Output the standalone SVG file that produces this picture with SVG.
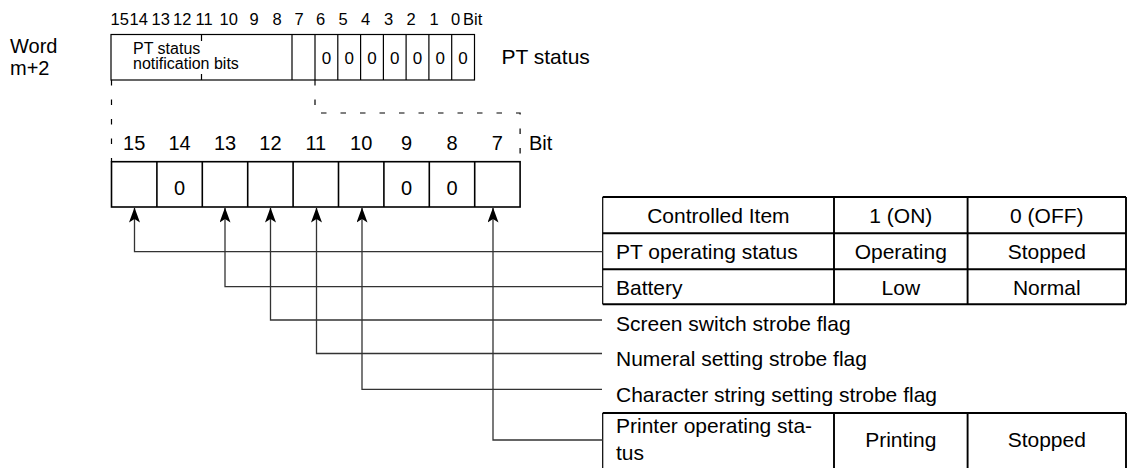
<svg xmlns="http://www.w3.org/2000/svg" width="1131" height="468" viewBox="0 0 1131 468">
<style>
  .t { font-family: "Liberation Sans", Arial, Helvetica, sans-serif; fill: #000; }
  .s15 { font-size: 16.5px; }
  .s16 { font-size: 16px; }
  .s17 { font-size: 17px; }
  .s20 { font-size: 20px; }
  .s21 { font-size: 21px; }
  .m { text-anchor: middle; }
  .box { fill: none; stroke: #000; stroke-width: 1.2; }
  .cell { fill: none; stroke: #000; stroke-width: 1.6; }
  .tbl { fill: none; stroke: #000; stroke-width: 1.9; }
  .edge { fill: none; stroke: #000; stroke-width: 1.2; }
  .dash { fill: none; stroke: #000; stroke-width: 1.2; stroke-dasharray: 5.5 14; }
  .conn { fill: none; stroke: #333; stroke-width: 1.3; }
</style>
<defs>
  <marker id="arr" viewBox="0 0 15 11" refX="15" refY="5.5" markerWidth="15" markerHeight="11" markerUnits="userSpaceOnUse" orient="auto">
    <path d="M0,0 L15,5.5 L0,11 L3.5,5.5 Z" fill="#000"/>
  </marker>
</defs>

<g id="word-label">
  <text class="t s20" x="10" y="53">Word</text>
  <text class="t s20" x="10" y="75">m+2</text>
</g>

<g id="top-register">
  <g class="t s15">
    <text x="110.5" y="25">15</text>
    <text x="129.5" y="25">14</text>
    <text x="151.5" y="25">13</text>
    <text x="173" y="25">12</text>
    <text x="195.5" y="25">11</text>
    <text x="219.5" y="25">10</text>
    <text x="249.5" y="25">9</text>
    <text x="272.5" y="25">8</text>
    <text x="294.5" y="25">7</text>
    <text x="316" y="25">6</text>
    <text x="338.5" y="25">5</text>
    <text x="361" y="25">4</text>
    <text x="384" y="25">3</text>
    <text x="406.5" y="25">2</text>
    <text x="429.5" y="25">1</text>
    <text x="451" y="25">0</text>
    <text x="463" y="25">Bit</text>
  </g>
  <rect class="box" x="111" y="34.5" width="363.5" height="45.5"/>
  <path class="box" d="M201.5,34.5 V41 M201.5,74 V80 M292,34.5 V80 M315,34.5 V80 M337.8,34.5 V80 M360.6,34.5 V80 M383.4,34.5 V80 M406.1,34.5 V80 M428.9,34.5 V80 M451.7,34.5 V80"/>
  <text class="t s16" x="133" y="53.5">PT status</text>
  <text class="t s16" x="133" y="68.5">notification bits</text>
  <g class="t s17 m">
    <text x="326.4" y="64">0</text>
    <text x="349.2" y="64">0</text>
    <text x="372" y="64">0</text>
    <text x="394.8" y="64">0</text>
    <text x="417.5" y="64">0</text>
    <text x="440.3" y="64">0</text>
    <text x="463.1" y="64">0</text>
  </g>
  <text class="t s21" x="501.5" y="64">PT status</text>
</g>

<g id="expansion-lines">
  <path class="dash" d="M111.5,80 V161.7"/>
  <path class="dash" d="M315,80 V113 H520.1 V161.7"/>
</g>

<g id="bit-row">
  <g class="t s20 m">
    <text x="134.2" y="149.5">15</text>
    <text x="179.6" y="149.5">14</text>
    <text x="225" y="149.5">13</text>
    <text x="270.4" y="149.5">12</text>
    <text x="315.8" y="149.5">11</text>
    <text x="361.2" y="149.5">10</text>
    <text x="406.6" y="149.5">9</text>
    <text x="452" y="149.5">8</text>
    <text x="497.4" y="149.5">7</text>
  </g>
  <text class="t s20" x="529" y="149.5">Bit</text>
  <rect class="cell" x="111.5" y="161.7" width="408.6" height="45.3"/>
  <path class="cell" d="M156.9,161.7 V207 M202.3,161.7 V207 M247.7,161.7 V207 M293.1,161.7 V207 M338.5,161.7 V207 M383.9,161.7 V207 M429.3,161.7 V207 M474.7,161.7 V207"/>
  <g class="t s20 m">
    <text x="179.6" y="195">0</text>
    <text x="406.6" y="195">0</text>
    <text x="452" y="195">0</text>
  </g>
</g>

<g id="table-status">
  <path class="tbl" d="M602.7,197 H1126 M602.7,233.3 H1126 M602.7,269.3 H1126 M602.7,304.3 H1126 M834,197 V304.3 M967.6,197 V304.3 M1126,197 V304.3"/>
  <path class="edge" d="M602.7,197 V304.3"/>
  <g class="t s21 m">
    <text x="718.4" y="222.5">Controlled Item</text>
    <text x="900.8" y="222.5">1 (ON)</text>
    <text x="1046.8" y="222.5">0 (OFF)</text>
    <text x="900.8" y="259">Operating</text>
    <text x="1046.8" y="259">Stopped</text>
    <text x="900.8" y="294.5">Low</text>
    <text x="1046.8" y="294.5">Normal</text>
  </g>
  <text class="t s21" x="616" y="259">PT operating status</text>
  <text class="t s21" x="616" y="294.5">Battery</text>
</g>

<g id="flag-screen">
  <text class="t s21" x="616" y="330.5">Screen switch strobe flag</text>
</g>
<g id="flag-numeral">
  <text class="t s21" x="616" y="365.5">Numeral setting strobe flag</text>
</g>
<g id="flag-character">
  <text class="t s21" x="616" y="401.5">Character string setting strobe flag</text>
</g>

<g id="table-printer">
  <path class="tbl" d="M602.7,413 H1126 M834,413 V468 M967.6,413 V468 M1126,413 V468"/>
  <path class="edge" d="M602.7,413 V468"/>
  <text class="t s21" x="616" y="433">Printer operating sta-</text>
  <text class="t s21" x="616" y="460">tus</text>
  <g class="t s21 m">
    <text x="900.8" y="447">Printing</text>
    <text x="1046.8" y="447">Stopped</text>
  </g>
</g>

<g id="connectors">
  <path class="conn" marker-end="url(#arr)" d="M602.7,251.7 H134.5 V207.5"/>
  <path class="conn" marker-end="url(#arr)" d="M602.7,286.7 H225 V207.5"/>
  <path class="conn" marker-end="url(#arr)" d="M602,320 H270.5 V207.5"/>
  <path class="conn" marker-end="url(#arr)" d="M602,353.5 H316.5 V207.5"/>
  <path class="conn" marker-end="url(#arr)" d="M602,389.3 H362 V207.5"/>
  <path class="conn" marker-end="url(#arr)" d="M602.7,440 H493 V207.5"/>
</g>
</svg>
